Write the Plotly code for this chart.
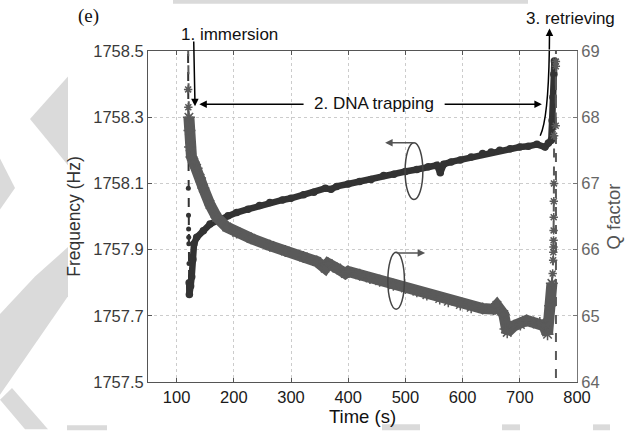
import plotly.graph_objects as go

# ---------------- data ----------------
time_freq = [119.8, 120.2, 120.5, 120.8, 121.0, 121.2, 121.4, 121.7, 122.0, 122.3,
             124.5, 126.4, 128.5, 130.5, 135.2, 146.7, 158.5, 175, 190, 205,
             225, 245, 263, 285, 300, 322, 340, 360, 370, 380,
             400, 420, 440, 462, 480, 500, 520, 540, 555, 561,
             567, 580, 596, 615, 635, 650, 665, 683, 700, 715,
             730, 744, 750, 755, 756.5, 758, 759.5, 760.5]
freq = [1758.60, 1758.244, 1758.085, 1758.004, 1757.962, 1757.937, 1757.918, 1757.858, 1757.800, 1757.764,
        1757.790, 1757.818, 1757.870, 1757.918, 1757.937, 1757.957, 1757.977, 1757.990, 1758.002, 1758.012,
        1758.022, 1758.033, 1758.042, 1758.050, 1758.055, 1758.066, 1758.073, 1758.085, 1758.082, 1758.091,
        1758.098, 1758.106, 1758.112, 1758.124, 1758.128, 1758.136, 1758.142, 1758.150, 1758.155, 1758.132,
        1758.158, 1758.165, 1758.171, 1758.180, 1758.190, 1758.195, 1758.200, 1758.205, 1758.210, 1758.212,
        1758.218, 1758.210, 1758.222, 1758.230, 1758.290, 1758.360, 1758.430, 1758.470]
freq_pre_count = 8          # dashed, before the sensor settles

time_q = [119.5, 120.2, 120.5, 121.5, 122.5, 123.5, 126, 130, 135, 141,
          146.7, 158.4, 170, 187.6, 205, 230, 263, 290, 321.6, 345,
          359.6, 365, 380, 395, 400, 420, 438, 455, 479, 500,
          520, 537.5, 560, 575, 596, 615, 635, 654, 660, 672,
          675, 678, 690, 701, 712, 724, 735, 742, 748.5, 753,
          756.1, 757.5, 758.3, 758.6, 758.9, 759.0, 759.1, 759.3, 759.5, 759.7,
          760.0, 762.8, 763.0, 763.1, 763.2, 763.2, 763.3]
qfac = [69.60, 68.42, 68.15, 68.00, 67.80, 67.55, 67.40, 67.32, 67.23, 67.08,
        66.93, 66.68, 66.49, 66.34, 66.26, 66.17, 66.06, 65.98, 65.89, 65.82,
        65.72, 65.79, 65.72, 65.64, 65.67, 65.62, 65.57, 65.53, 65.47, 65.42,
        65.37, 65.32, 65.26, 65.22, 65.17, 65.13, 65.11, 65.10, 65.16, 65.02,
        64.80, 64.75, 64.85, 64.87, 64.93, 64.90, 64.89, 64.85, 64.72, 65.15,
        65.49, 65.64, 65.84, 65.96, 66.04, 66.14, 66.29, 66.49, 66.73, 67.00,
        67.72, 67.87, 68.77, 68.84, 69.60, 62.00, 62.00]
q_pre_count = 3
q_main_end = 51             # dense part ends here, sparse dashed part after

x_ticks = [100, 200, 300, 400, 500, 600, 700, 800]
freq_ticks = [1757.5, 1757.7, 1757.9, 1758.1, 1758.3, 1758.5]
q_ticks = [64, 65, 66, 67, 68, 69]

# ---------------- styling ----------------
W, H = 637, 435
ML, MR, MT, MB = 148, 60, 51, 48
PW, PH = W - ML - MR, H - MT - MB

FREQ_C = "#333333"
Q_C = "#5a5a5a"
SANS = "Liberation Sans, Arial, Helvetica, sans-serif"
GRID = "#cccccc"


def px2paper(px, py):
    return (px - ML) / PW, (H - MB - py) / PH


fig = go.Figure()

# frequency: dashed part before immersion settles
fig.add_trace(go.Scatter(
    x=time_freq[:freq_pre_count + 1], y=freq[:freq_pre_count + 1], mode="lines+markers",
    line=dict(color=FREQ_C, width=2, dash="dash"),
    marker=dict(color=FREQ_C, size=5), showlegend=False))
# frequency: dense part
fig.add_trace(go.Scatter(
    x=time_freq[freq_pre_count:], y=freq[freq_pre_count:], mode="lines+markers",
    line=dict(color=FREQ_C, width=6.5),
    marker=dict(color=FREQ_C, size=7.5), showlegend=False))

# Q factor: dashed parts
fig.add_trace(go.Scatter(
    x=time_q[:q_pre_count + 1], y=qfac[:q_pre_count + 1], yaxis="y2", mode="lines+markers",
    line=dict(color=Q_C, width=2, dash="dash"),
    marker=dict(symbol="asterisk-open", size=7, line=dict(color=Q_C, width=1.5)),
    showlegend=False))
fig.add_trace(go.Scatter(
    x=time_q[q_main_end - 1:], y=qfac[q_main_end - 1:], yaxis="y2", mode="lines+markers",
    line=dict(color=Q_C, width=2, dash="dash"),
    marker=dict(symbol="asterisk-open", size=7, line=dict(color=Q_C, width=1.5)),
    showlegend=False))
# Q factor: dense part
fig.add_trace(go.Scatter(
    x=time_q[q_pre_count:q_main_end], y=qfac[q_pre_count:q_main_end], yaxis="y2",
    mode="lines+markers",
    line=dict(color=Q_C, width=11),
    marker=dict(symbol="asterisk-open", size=10, line=dict(color=Q_C, width=1.5)),
    showlegend=False))

# ---------------- annotations ----------------
ann = []
arrow_k = dict(showarrow=True, arrowhead=2, arrowsize=1, arrowwidth=1.5,
               arrowcolor="#000", axref="x", ayref="y", xref="x", yref="y", text="")


def label(px, py, text, font):
    x, y = px2paper(px, py)
    return dict(x=x, y=y, xref="paper", yref="paper", xanchor="center", yanchor="middle",
                showarrow=False, text=text, font=font)


TXT = dict(family=SANS, size=17, color="#111")
# 1. immersion
ann.append(dict(x=132.2, y=1758.333, ax=129.9, ay=1758.533, **arrow_k))
ann.append(label(229, 34, "1. immersion", TXT))
# 2. DNA trapping
ann.append(dict(x=139.7, y=1758.339, ax=324.6, ay=1758.339, **arrow_k))
ann.append(dict(x=738.6, y=1758.339, ax=566.0, ay=1758.339, **arrow_k))
ann.append(label(374, 104, "2. DNA trapping", TXT))
# 3. retrieving
ann.append(dict(x=752.0, y=1758.568, ax=751.6, ay=1758.50, **arrow_k))
ann.append(label(570, 18, "3. retrieving", TXT))
# ellipse arrows
ann.append(dict(x=464.6, y=1758.223, ax=517.0, ay=1758.223, showarrow=True, arrowhead=2,
                arrowsize=1, arrowwidth=1.5, arrowcolor="#555", axref="x", ayref="y",
                xref="x", yref="y", text=""))
ann.append(dict(x=534.5, y=65.95, ax=482.0, ay=65.95, showarrow=True, arrowhead=2,
                arrowsize=1, arrowwidth=1.5, arrowcolor="#555", axref="x", ayref="y2",
                xref="x", yref="y2", text=""))
# panel label
ann.append(label(88, 15, "(e)", dict(family="Liberation Serif, Times New Roman, serif",
                                     size=19, color="#111")))

shapes = []
# decorative watermark pieces outside the figure
wm = [
    [(68, 77), (30, 120), (68, 167)],
    [(0, 160), (15, 190), (0, 212)],
    [(68, 250), (35, 280), (0, 318), (0, 400), (68, 300)],
    [(0, 405), (12, 393), (48, 435), (25, 435)],
    [(67, 431), (107, 431), (107, 436), (67, 436)],
    [(382, 430), (420, 430), (420, 436), (382, 436)],
    [(502, 430), (520, 430), (520, 436), (502, 436)],
    [(593, 430), (610, 430), (610, 436), (593, 436)],
    [(173, -1), (528, -1), (528, 3), (173, 3)],
]
for poly in wm:
    pts = [px2paper(a, b) for a, b in poly]
    path = "M " + " L ".join(f"{a:.4f},{b:.4f}" for a, b in pts) + " Z"
    shapes.append(dict(type="path", path=path, xref="paper", yref="paper",
                       fillcolor="#dadada", line=dict(width=0), layer="below"))
# ellipses
shapes.append(dict(type="circle", xref="x", yref="y", x0=499.5, x1=530.5,
                   y0=1758.051, y1=1758.223, line=dict(color="#444", width=1.5)))
shapes.append(dict(type="circle", xref="x", yref="y2", x0=469.3, x1=498.3,
                   y0=65.10, y1=65.96, line=dict(color="#444", width=1.5)))
# curved arrow shaft for 3. retrieving
shapes.append(dict(type="path", xref="x", yref="y",
                   path="M 735.7,1758.244 Q 749.7,1758.295 751.6,1758.50",
                   line=dict(color="#000", width=1.5)))

TICKF = 16.5
fig.update_layout(
    width=W, height=H, margin=dict(l=ML, r=MR, t=MT, b=MB),
    paper_bgcolor="white", plot_bgcolor="white",
    annotations=ann, shapes=shapes, showlegend=False,
    xaxis=dict(range=[50, 800], tickvals=x_ticks, ticktext=[str(v) for v in x_ticks],
               showgrid=True, gridcolor=GRID, griddash="dot", gridwidth=1,
               showline=True, linecolor="#555", linewidth=1, mirror="ticks",
               ticks="inside", ticklen=4, tickcolor="#555", zeroline=False,
               tickfont=dict(family=SANS, size=TICKF, color="#1a1a1a"),
               title=dict(text="Time (s)", font=dict(family=SANS, size=18.5, color="#111"),
                          standoff=4)),
    yaxis=dict(range=[1757.5, 1758.5], tickvals=freq_ticks,
               ticktext=[f"{v:.1f}" for v in freq_ticks],
               showgrid=True, gridcolor=GRID, griddash="dot", gridwidth=1,
               showline=True, linecolor="#555", linewidth=1,
               ticks="inside", ticklen=4, tickcolor="#555", zeroline=False,
               tickfont=dict(family=SANS, size=TICKF, color="#3a3a3a"),
               title=dict(text="Frequency (Hz)", font=dict(family=SANS, size=17.5, color="#333"),
                          standoff=8)),
    yaxis2=dict(range=[64, 69], tickvals=q_ticks, ticktext=[str(v) for v in q_ticks],
                overlaying="y", side="right", showgrid=False,
                showline=True, linecolor="#777", linewidth=1,
                ticks="inside", ticklen=4, tickcolor="#777", zeroline=False,
                tickfont=dict(family=SANS, size=TICKF, color="#666"),
                title=dict(text="Q factor", font=dict(family=SANS, size=18.5, color="#555"),
                           standoff=8)),
)

fig.write_html("out.html")
